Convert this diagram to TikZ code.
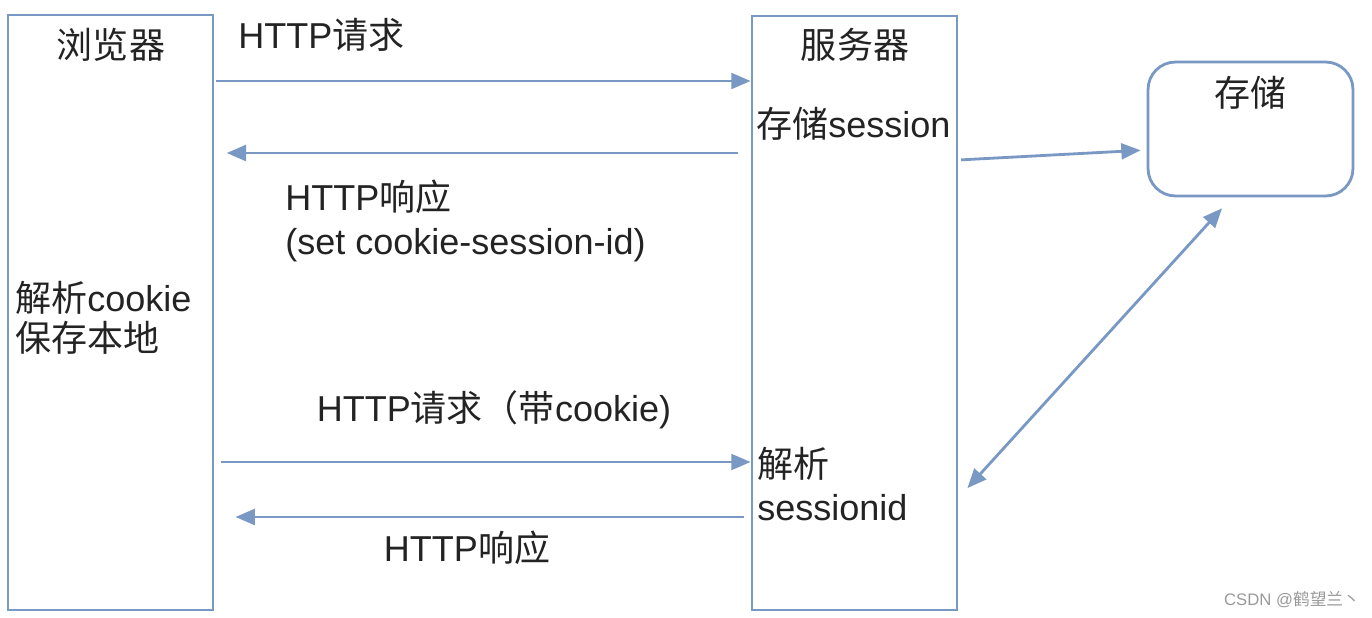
\documentclass[tikz,border=0pt]{standalone}
\usepackage{fontspec}
\setmainfont{Liberation Sans}
\newfontfamily\zh{Noto Sans CJK SC}
\usetikzlibrary{arrows.meta}
\definecolor{lineblue}{RGB}{122,152,196}
\definecolor{textgray}{RGB}{35,35,35}

\begin{document}
\begin{tikzpicture}[
    x=0.02cm, y=-0.02cm,
    font=\fontsize{20.5}{24}\selectfont,
    box/.style={rectangle, draw=lineblue, line width=1.6pt, minimum width=4.1cm},
    store/.style={box, rounded corners=0.55cm, minimum height=2.68cm},
    label/.style={inner sep=0pt, text=textgray, align=left},
    arrow/.style={draw=lineblue, line width=1.6pt, -{Triangle[length=11pt,width=9pt]}, lineblue},
    twoway/.style={arrow, {Triangle[length=11pt,width=9pt]}-{Triangle[length=11pt,width=9pt]}}
]
\useasboundingbox (0,0) rectangle (1372,618);

\node (browser) [box, minimum height=11.9cm] at (110.5,312.5) {};
\node (server) [box, minimum height=11.88cm] at (854.5,313) {};
\node (storage) [store] at (1250.5,129) {};

% box texts
\node (browsertitle) [label] at (111,45) {\zh 浏览器};
\node (servertitle) [label] at (855,45) {\zh 服务器};
\node (storetitle) [label] at (1250,93) {\zh 存储};
\node (parsecookie) [label, anchor=west] at (15,318) {{\zh 解析}cookie\\[-1pt]{\zh 保存本地}};
\node (savesession) [label, anchor=west] at (756,124) {{\zh 存储}session};
\node (parseid) [label, anchor=west] at (757,484) {{\zh 解析}\\[0pt]sessionid};

% messages
\draw [arrow, shorten <=1pt] (browser.east |- 0,81) -- (server.west |- 0,81);
\draw [arrow, shorten <=7pt, shorten >=7pt] (server.west |- 0,153) -- (browser.east |- 0,153);
\draw [arrow, shorten <=4pt] (browser.east |- 0,462) -- (server.west |- 0,462);
\draw [arrow, shorten <=4pt, shorten >=12pt] (server.west |- 0,517) -- (browser.east |- 0,517);
\draw [arrow, shorten <=1.5pt, shorten >=3.4pt] (server.east |- 0,160) -- (storage.west |- 0,150);
\draw [twoway, shorten <=7.6pt, shorten >=8.4pt] (server.east |- 0,498) -- (1232,0 |- storage.south);

\node (req1) [label, anchor=west] at (238,35) {HTTP{\zh 请求}};
\node (resp1) [label, anchor=west] at (285,221) {HTTP{\zh 响应}\\[1pt](set cookie-session-id)};
\node (req2) [label] at (494,410) {HTTP{\zh 请求（带}cookie)};
\node (resp2) [label] at (467,548) {HTTP{\zh 响应}};

\node (mark) [inner sep=0pt, text=gray!80, font=\fontsize{9.5}{11}\selectfont] at (1292,600) {CSDN @{\zh 鹤望兰丶}};

\end{tikzpicture}
\end{document}
